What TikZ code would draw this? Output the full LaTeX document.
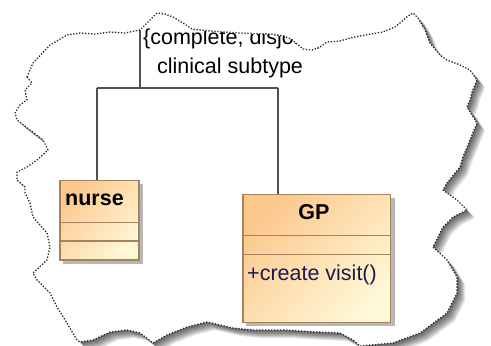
\documentclass[tikz,border=0pt]{standalone}
\usepackage{fontspec}
\setmainfont{Liberation Sans}
\usetikzlibrary{calc}
\definecolor{peach}{HTML}{FCC88E}
\definecolor{cream}{HTML}{FFF8D6}
\definecolor{boxline}{HTML}{A8825A}
\definecolor{connline}{HTML}{505050}
\definecolor{opink}{HTML}{1C1C4C}
% torn paper outline (units: px, y downwards)
\def\paperpath{(27,77) -- (33,63) -- (50,45) -- (67,35) -- (80,33) -- (95,34) -- (110,32) -- (125,33) -- (140,30) -- (150,20) -- (157,13) -- (165,14) -- (173,17) -- (183,23) -- (192,29) -- (210,31) -- (240,33) -- (270,34) -- (284,36) -- (291,39) -- (297,44) -- (303,49) -- (312,50) -- (320,47) -- (327,42) -- (340,41) -- (350,38) -- (365,35) -- (383,32) -- (395,27) -- (400,23) -- (408,16) -- (413,13) -- (418,18) -- (425,30) -- (430,43) -- (440,55) -- (447,60) -- (460,65) -- (470,70) -- (477,80) -- (472,92) -- (470,100) -- (467,107) -- (477,123) -- (470,140) -- (463,157) -- (460,167) -- (447,183) -- (443,190) -- (457,200) -- (467,210) -- (453,217) -- (443,227) -- (433,247) -- (447,260) -- (457,277) -- (457,293) -- (447,313) -- (420,333) -- (393,343) -- (360,346) -- (353,340) -- (340,333) -- (317,332) -- (283,330) -- (253,330) -- (233,328) -- (207,322) -- (187,327) -- (167,335) -- (153,343) -- (140,333) -- (127,330) -- (110,332) -- (93,340) -- (80,342) -- (77,340) -- (67,323) -- (57,307) -- (50,293) -- (37,280) -- (33,273) -- (47,260) -- (50,247) -- (47,233) -- (33,217) -- (30,203) -- (25,193) -- (25,187) -- (17,180) -- (17,172) -- (27,167) -- (37,160) -- (48,150) -- (43,140) -- (30,130) -- (17,120) -- (15,113) -- (20,105) -- (27,100) -- (25,90) -- (32,83) -- cycle}
\tikzset{
  paperedge/.style={draw=black!85, line width=1.3pt, dash pattern=on 1.3pt off 1.7pt, line join=round},
  classbox/.style={rectangle, draw=boxline, line width=1.4pt, top color=peach, bottom color=cream, shading angle=45, inner sep=0pt, anchor=north west},
  boxshadow/.style={fill=black!28},
  sepline/.style={draw=boxline, line width=1.4pt},
  conn/.style={draw=connline, line width=1.2pt},
  lbl/.style={inner sep=0pt, anchor=base west, font=\fontsize{21.5}{24}\selectfont},
}
\begin{document}
\begin{tikzpicture}[x=1pt, y=-1pt]
  \useasboundingbox[fill=white] (0,0) rectangle (491,346);
  % soft drop shadow of the paper
  \foreach \s in {1,...,8}
    \fill[black, opacity=0.1, shift={(\s*1.0,\s*1.0)}] \paperpath;
  \fill[white] \paperpath;
  \begin{scope}
    \clip \paperpath;
    % class box shadows
    \fill[boxshadow] (63.3,184) rectangle (143,264);
    \fill[boxshadow] (246.3,198) rectangle (394.5,326);
    % classes
    \node[classbox, minimum width=79pt, minimum height=79.3pt] (nurse) at (59.3,180) {};
    \node[classbox, minimum width=147.7pt, minimum height=127.7pt] (gp) at (242.3,194) {};
    \draw[sepline] ($(nurse.north west)+(0,42.3)$) -- ($(nurse.north east)+(0,42.3)$);
    \draw[sepline] ($(nurse.north west)+(0,61)$) -- ($(nurse.north east)+(0,61)$);
    \draw[sepline] ($(gp.north west)+(0,41.7)$) -- ($(gp.north east)+(0,41.7)$);
    \draw[sepline] ($(gp.north west)+(0,60.3)$) -- ($(gp.north east)+(0,60.3)$);
    \node[lbl, font=\fontsize{21.5}{24}\selectfont\bfseries] (nursename) at (65,205) {nurse};
    \node[lbl, font=\fontsize{21.5}{24}\selectfont\bfseries, anchor=base] (gpname) at (314,219) {GP};
    \node[lbl, text=opink] (gpop) at (247,280) {+create visit()};
    % generalization set labels
    \node[lbl] (gsconstraint) at (143,44) {\{complete, disjoint\}};
    \node[lbl] (gsname) at (157,73) {clinical subtype};
    % generalization tree
    \coordinate (root) at (140,30);
    \coordinate (jl) at (97,88);
    \coordinate (jr) at (278,88);
    \draw[conn] (root) -- (root |- jl);
    \draw[conn] (jl) -- (jr);
    \draw[conn] (jl) -- (jl |- nurse.north);
    \draw[conn] (jr) -- (jr |- gp.north);
  \end{scope}
  \draw[paperedge] \paperpath;
\end{tikzpicture}
\end{document}
